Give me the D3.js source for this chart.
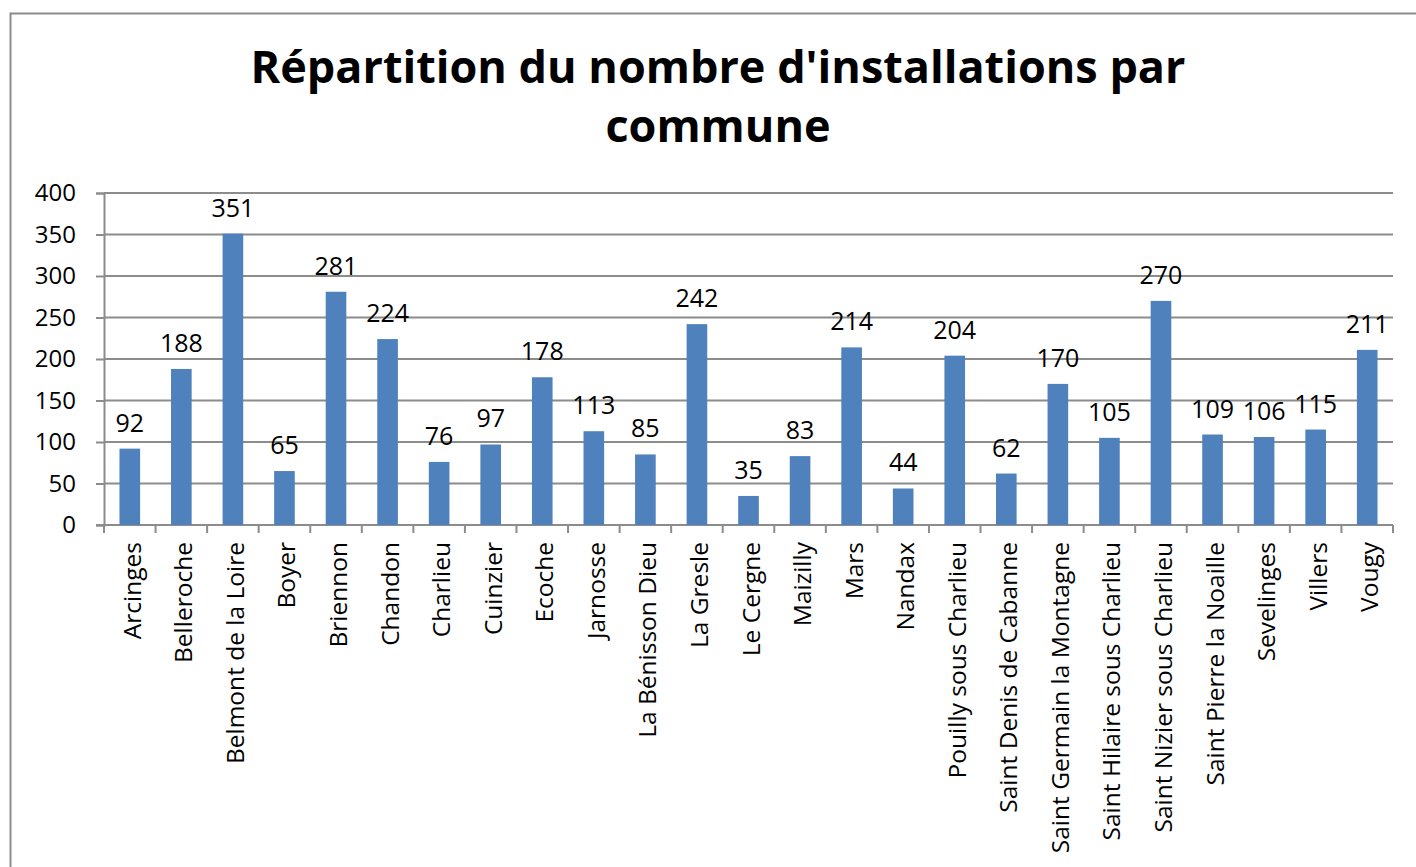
<!DOCTYPE html>
<html>
<head>
<meta charset="utf-8">
<script src="https://cdn.jsdelivr.net/npm/d3@7"></script>
<style>
  body { margin: 0; background: #fff; }
  text { font-family: "Open Sans", sans-serif; }
</style>
</head>
<body>
<div id="viz"></div>
<script>
let communes = ['Arcinges', 'Belleroche', 'Belmont de la Loire', 'Boyer', 'Briennon', 'Chandon',
  'Charlieu', 'Cuinzier', 'Ecoche', 'Jarnosse', 'La Bénisson Dieu', 'La Gresle', 'Le Cergne',
  'Maizilly', 'Mars', 'Nandax', 'Pouilly sous Charlieu', 'Saint Denis de Cabanne',
  'Saint Germain la Montagne', 'Saint Hilaire sous Charlieu', 'Saint Nizier sous Charlieu',
  'Saint Pierre la Noaille', 'Sevelinges', 'Villers', 'Vougy']
let installations = [92, 188, 351, 65, 281, 224, 76, 97, 178, 113, 85, 242, 35, 83, 214, 44,
  204, 62, 170, 105, 270, 109, 106, 115, 211]
let yTicks = [0, 50, 100, 150, 200, 250, 300, 350, 400]

let width = 1416, height = 867
let plotLeft = 104, plotRight = 1393, plotTop = 193, plotBottom = 525

let svg = d3.select('#viz')
  .append('svg')
  .attr('width', width)
  .attr('height', height)

// chart frame
svg.append('rect')
  .attr('x', 10.5)
  .attr('y', 13.5)
  .attr('width', width + 20)
  .attr('height', height + 20)
  .attr('fill', 'none')
  .attr('stroke', '#8c8c8c')
  .attr('stroke-width', 2)

svg.append('text')
  .attr('x', 718)
  .attr('y', 83)
  .attr('text-anchor', 'middle')
  .attr('font-size', 45)
  .attr('font-weight', 'bold')
  .text("Répartition du nombre d'installations par")

svg.append('text')
  .attr('x', 718)
  .attr('y', 142)
  .attr('text-anchor', 'middle')
  .attr('font-size', 45)
  .attr('font-weight', 'bold')
  .text('commune')

let x = d3.scaleBand()
  .domain(communes)
  .range([plotLeft, plotRight])
  .paddingInner(0.6)
  .paddingOuter(0.3)

let y = d3.scaleLinear()
  .domain([0, 400])
  .range([plotBottom, plotTop])

// gridlines
svg.append('g')
  .selectAll('line')
  .data(yTicks.filter(d => d > 0))
  .enter()
  .append('line')
  .attr('x1', plotLeft)
  .attr('x2', plotRight)
  .attr('y1', d => y(d))
  .attr('y2', d => y(d))
  .attr('stroke', '#8c8c8c')
  .attr('stroke-width', 2)

// y axis
let yAxis = svg.append('g')
  .attr('transform', `translate(${plotLeft},0)`)
  .call(d3.axisLeft(y).tickValues(yTicks).tickSize(8).tickPadding(20))
yAxis.select('.domain').attr('stroke', '#8c8c8c').attr('stroke-width', 2)
yAxis.selectAll('.tick line').attr('stroke', '#8c8c8c').attr('stroke-width', 2)
yAxis.selectAll('.tick text')
  .attr('font-size', 24)
  .attr('font-family', '"Open Sans", sans-serif')
  .attr('fill', '#000')

// x axis baseline and ticks between categories
let boundaries = d3.range(communes.length + 1).map(i => plotLeft + i * (plotRight - plotLeft) / communes.length)
svg.append('line')
  .attr('x1', plotLeft - 8)
  .attr('x2', plotRight)
  .attr('y1', plotBottom)
  .attr('y2', plotBottom)
  .attr('stroke', '#8c8c8c')
  .attr('stroke-width', 2)
svg.append('g')
  .selectAll('line')
  .data(boundaries)
  .enter()
  .append('line')
  .attr('x1', d => d)
  .attr('x2', d => d)
  .attr('y1', plotBottom)
  .attr('y2', plotBottom + 8)
  .attr('stroke', '#8c8c8c')
  .attr('stroke-width', 2)

// bars
svg.append('g')
  .selectAll('rect')
  .data(installations)
  .enter()
  .append('rect')
  .attr('x', (d, i) => x(communes[i]))
  .attr('y', d => y(d))
  .attr('width', x.bandwidth())
  .attr('height', d => plotBottom - y(d))
  .attr('fill', '#4f81bd')

// value labels
svg.append('g')
  .selectAll('text')
  .data(installations)
  .enter()
  .append('text')
  .attr('x', (d, i) => x(communes[i]) + x.bandwidth() / 2)
  .attr('y', d => y(d) - 17)
  .attr('text-anchor', 'middle')
  .attr('font-size', 25)
  .text(d => d)

// category labels
svg.append('g')
  .selectAll('text')
  .data(communes)
  .enter()
  .append('text')
  .attr('transform', d => `translate(${x(d) + x.bandwidth() / 2 + 11},${plotBottom + 17}) rotate(-90)`)
  .attr('text-anchor', 'end')
  .attr('font-size', 24.5)
  .text(d => d)
</script>
</body>
</html>
